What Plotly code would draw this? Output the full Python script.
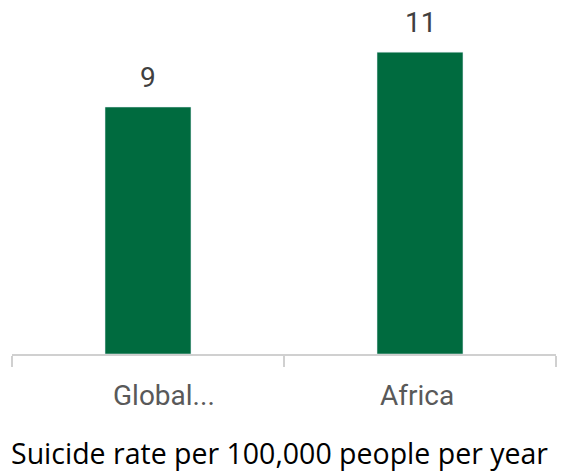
import plotly.graph_objects as go

categories = ["Global average", "Africa"]
tick_labels = ["Global...", "Africa"]
tick_label_offsets = [16, -3]
values = [9, 11]
value_labels = ["9", "11"]
title_text = "Suicide rate per 100,000 people per year"

bar_color = "#006B3F"

fig = go.Figure()
fig.add_trace(go.Bar(x=categories, y=values, marker_color=bar_color, width=0.316,
                     hoverinfo="skip"))

for c, v, t in zip(categories, values, value_labels):
    fig.add_annotation(x=c, y=v, text=t, showarrow=False, yanchor="bottom",
                       yshift=11, font=dict(family="Roboto", size=28, color="#404040"))

for c, t, dx in zip(categories, tick_labels, tick_label_offsets):
    fig.add_annotation(x=c, y=0, yref="y", text=t, showarrow=False, yanchor="middle",
                       yshift=-41, xshift=dx,
                       font=dict(family="Roboto", size=28, color="#595959"))

fig.update_layout(
    width=561, height=474,
    margin=dict(l=12, r=5, t=0, b=120),
    plot_bgcolor="white", paper_bgcolor="white",
    showlegend=False,
    xaxis=dict(tickvals=categories, showticklabels=False, showline=True,
               linecolor="#D0D0D0", linewidth=1.5, ticks="outside", ticklen=11,
               tickcolor="#D0D0D0", tickwidth=1.5, tickson="boundaries",
               showgrid=False),
    yaxis=dict(range=[0, 12.9], visible=False, showgrid=False),
)
fig.add_annotation(xref="paper", yref="paper", x=0.5, y=-0.28, yanchor="middle",
                   xshift=-5, text=title_text, showarrow=False, borderpad=0,
                   font=dict(family="Open Sans", size=28.5, color="#000000"))

fig.write_html("out.html")
